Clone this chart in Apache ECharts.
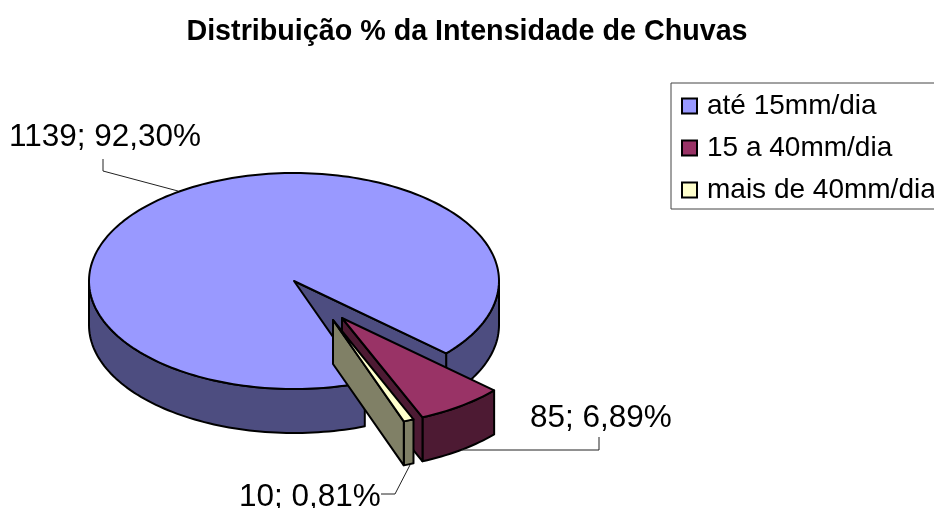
<!DOCTYPE html>
<html><head><meta charset="utf-8">
<style>html,body{margin:0;padding:0;background:#fff}#c{width:934px;height:508px}</style>
<script src="https://cdn.jsdelivr.net/npm/echarts@6/dist/echarts.min.js"></script>
</head><body><div id="c"></div>
<script>
const titleText = 'Distribuição % da Intensidade de Chuvas';
const categories = ['até 15mm/dia', '15 a 40mm/dia', 'mais de 40mm/dia'];
const values = [1139, 85, 10];
const topColors = ['#9999FF', '#993366', '#FFFFCC'];
const sideColors = ['#4D4D80', '#4D1A33', '#808066'];

const FONT = '"Liberation Sans", Arial, sans-serif';
const CX = 294, CY = 281, RX = 205, RY = 108, DEPTH = 44;
const FIRST_ANGLE = 69.8;   // degrees clockwise from east where the first slice starts
const total = values.reduce((a, b) => a + b, 0);

// slice layout derived from values
const spans = [];
let acc = FIRST_ANGLE;
values.forEach(v => { const s = v / total * 360; spans.push([acc, acc + s]); acc += s; });
const explode = [[0, 0], [48, 37], [39, 39]];
const labelPos = [[9, 153], [530, 434], [239, 513]];
const leaders = [
  [[178, 191], [103, 171], [103, 159]],
  [[462, 450], [599, 450], [599, 437]],
  [[410, 465], [395, 494], [381, 494]]
];

const pt = (a, ox, oy, d) => {
  const r = a * Math.PI / 180;
  return [CX + ox + RX * Math.cos(r), CY + oy + RY * Math.sin(r) + (d || 0)];
};
const arc = (a0, a1, ox, oy, d) => {
  const n = Math.max(2, Math.ceil(Math.abs(a1 - a0) / 1.5)), out = [];
  for (let i = 0; i <= n; i++) out.push(pt(a0 + (a1 - a0) * i / n, ox, oy, d));
  return out;
};
const poly = (points, fill) => ({
  type: 'polygon',
  shape: { points },
  style: { fill, stroke: '#000', lineWidth: 2, lineJoin: 'round' }
});
// visible outer wall between angles, only the part in the front half (0..180)
const wall = (a0, a1, ox, oy, fill) => {
  const res = [];
  for (let k = -1; k <= 1; k++) {
    const s = Math.max(a0, k * 360), e = Math.min(a1, k * 360 + 180);
    if (e > s) res.push(poly(arc(s, e, ox, oy, 0).concat(arc(e, s, ox, oy, DEPTH)), fill));
  }
  return res;
};

function makeRender(i) {
  return function () {
    const [a0, a1] = spans[i];
    const [ox, oy] = explode[i];
    const apex = [CX + ox, CY + oy];
    const apexD = [apex[0], apex[1] + DEPTH];
    const side = sideColors[i], children = [];
    const e0 = pt(a1, ox, oy, 0), e1 = pt(a1, ox, oy, DEPTH);
    wall(a0, a1, ox, oy, side).forEach(w => children.push(w));
    children.push(poly([apex, e0, e1, apexD], side));
    children.push(poly([apex].concat(arc(a0, a1, ox, oy, 0)), topColors[i]));
    // leader + label
    children.push({ type: 'polyline', shape: { points: leaders[i] },
      style: { fill: null, stroke: '#222', lineWidth: 1 } });
    const pct = (values[i] / total * 100).toFixed(2).replace('.', ',');
    children.push({ type: 'text', style: {
      text: values[i] + '; ' + pct + '%', x: labelPos[i][0], y: labelPos[i][1],
      font: '31.5px ' + FONT, fill: '#000', verticalAlign: 'bottom'
    }});
    return { type: 'group', children };
  };
}

const series = categories.map((name, i) => ({
  type: 'custom', name, coordinateSystem: 'none',
  silent: true, animation: false, clip: false, z: 2 + i,
  itemStyle: { color: topColors[i] },
  data: [values[i]],
  renderItem: makeRender(i)
}));

const chart = echarts.init(document.getElementById('c'), null, { renderer: 'canvas' });
chart.setOption({
  animation: false,
  backgroundColor: '#fff',
  title: { text: titleText, left: 'center', top: 13,
    textStyle: { fontFamily: FONT, fontSize: 28.7, fontWeight: 'bold', color: '#000' } },
  legend: {
    orient: 'vertical', left: 671, top: 83, width: 320,
    padding: [9, 40, 5, 10], itemGap: 14, itemWidth: 15, itemHeight: 15,
    borderColor: '#444', borderWidth: 1, backgroundColor: 'transparent',
    icon: 'rect', selectedMode: false,
    itemStyle: { borderColor: '#000', borderWidth: 2 },
    textStyle: { fontFamily: FONT, fontSize: 28, color: '#000', padding: [0, 0, 0, 5] },
    data: categories
  },
  series
});
</script></body></html>
